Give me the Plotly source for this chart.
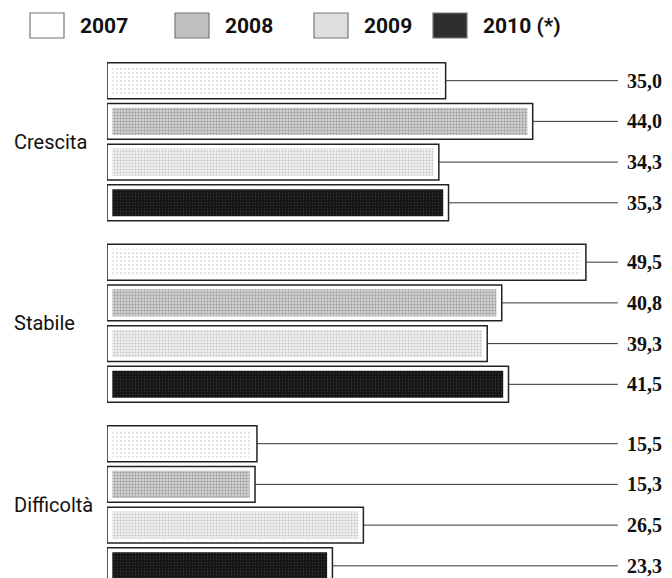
import plotly.graph_objects as go

# ---- data ----
categories = ["Crescita", "Stabile", "Difficoltà"]
series_names = ["2007", "2008", "2009", "2010 (*)"]
values_2007 = [35.0, 49.5, 15.5]
values_2008 = [44.0, 40.8, 15.3]
values_2009 = [34.3, 39.3, 26.5]
values_2010 = [35.3, 41.5, 23.3]
all_values = [values_2007, values_2008, values_2009, values_2010]

# ---- styling ----
PAGE_OFF = 8                      # default page body margin
W_FIG, H_FIG = 672 - 2 * PAGE_OFF, 578 - PAGE_OFF
L, T = 107 - PAGE_OFF, 51 - PAGE_OFF
PW, PH = W_FIG - L, H_FIG - T
PX_PER_UNIT = 9.675
CAT_PX = 181.5                    # pixels per category band
X_MAX = PW / PX_PER_UNIT
LEADER_END = 52.8
LABEL_X = (663 - PAGE_OFF - L) / PX_PER_UNIT

pitch = 0.2243          # slot pitch in category units
w_out = 0.198           # outer bar thickness
w_in = 0.149            # inner textured bar thickness
inset_x = 0.55          # horizontal inset of texture (data units)

fills = [
    dict(color="#ffffff", pattern=dict(shape=".", fgcolor="#b5b5b5", bgcolor="#ffffff", size=4, solidity=0.2)),
    dict(color="#d0d0d0", pattern=dict(shape=".", fgcolor="#6a6a6a", bgcolor="#dcdcdc", size=3, solidity=0.5)),
    dict(color="#eeeeee", pattern=dict(shape=".", fgcolor="#9a9a9a", bgcolor="#f2f2f2", size=3, solidity=0.4)),
    dict(color="#1c1c1c", pattern=dict(shape=".", fgcolor="#5a5a5a", bgcolor="#151515", size=3, solidity=0.15)),
]
legend_fill = ["#ffffff", "#c0c0c0", "#dedede", "#2e2e2e"]

fig = go.Figure()
shapes = []
annotations = []

for j, (name, vals) in enumerate(zip(series_names, all_values)):
    center_off = (j - 1.5) * pitch
    # outer white bar with black border
    fig.add_trace(go.Bar(
        y=categories, x=vals, orientation="h", name=name,
        width=w_out, offset=center_off - w_out / 2,
        marker=dict(color="#ffffff", line=dict(color="#222222", width=1.5)),
        showlegend=False, hoverinfo="skip",
    ))
    # inner textured fill
    fig.add_trace(go.Bar(
        y=categories, x=[v - 2 * inset_x for v in vals], base=inset_x,
        orientation="h", name=name,
        width=w_in, offset=center_off - w_in / 2,
        marker=dict(color=fills[j]["color"], pattern=fills[j]["pattern"],
                    line=dict(width=0)),
        showlegend=False, hoverinfo="skip",
    ))
    for i, v in enumerate(vals):
        yc = i + center_off
        shapes.append(dict(type="line", xref="x", yref="y", x0=v, x1=LEADER_END,
                           y0=yc, y1=yc, line=dict(color="#333333", width=1)))
        annotations.append(dict(
            x=LABEL_X, y=yc, xref="x", yref="y", xanchor="right", yanchor="middle",
            text=f"{v:.1f}".replace(".", ","), showarrow=False, borderpad=0,
            font=dict(family="Liberation Serif", size=20, color="#111111", weight="bold"),
        ))

# category labels
for c in categories:
    annotations.append(dict(
        x=0, y=c, xref="paper", yref="y", xanchor="left", yanchor="middle",
        xshift=-(L - (12 - PAGE_OFF)), text=c, showarrow=False,
        font=dict(family="Roboto", size=20, color="#111111"),
    ))


def px_x(px):
    return (px - PAGE_OFF - L) / PW


def px_y(py):
    return 1 - (py - PAGE_OFF - T) / PH


# legend (boxes + labels), positions in window pixels
box_x = [30, 175, 314, 433]
text_x = [78, 223, 362, 481]
for j, name in enumerate(series_names):
    shapes.append(dict(type="rect", xref="paper", yref="paper",
                       x0=px_x(box_x[j]), x1=px_x(box_x[j] + 34),
                       y0=px_y(38), y1=px_y(13),
                       fillcolor=legend_fill[j], line=dict(color="#777777", width=1.2)))
    annotations.append(dict(
        x=px_x(text_x[j]), y=px_y(25.5), xref="paper", yref="paper",
        xanchor="left", yanchor="middle", text=name, showarrow=False,
        font=dict(family="Roboto", size=21, color="#111111", weight="bold"),
    ))

fig.update_layout(
    width=W_FIG, height=H_FIG,
    margin=dict(l=L, r=0, t=T, b=0),
    barmode="overlay",
    paper_bgcolor="white", plot_bgcolor="white",
    shapes=shapes, annotations=annotations,
    showlegend=False,
    xaxis=dict(range=[0, X_MAX], showgrid=False, zeroline=False,
               showticklabels=False, showline=False, ticks=""),
    yaxis=dict(type="category", categoryorder="array", categoryarray=categories,
               range=[-0.5 + PH / CAT_PX, -0.5], showgrid=False, zeroline=False,
               showticklabels=False, showline=False, ticks=""),
)

fig.write_html("out.html")
